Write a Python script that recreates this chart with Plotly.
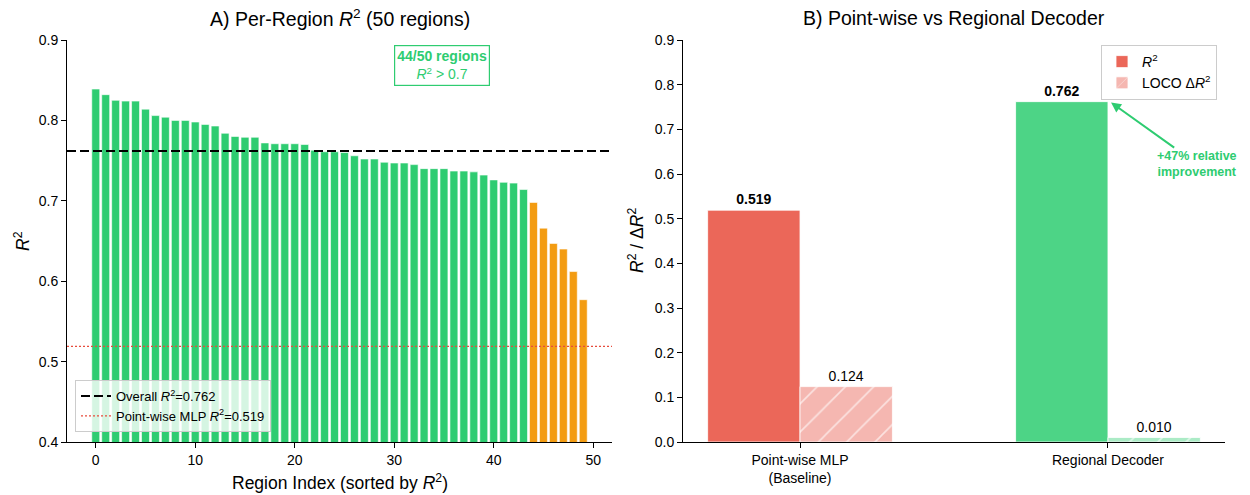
import plotly.graph_objects as go

# ---------------- data ----------------
region_idx = list(range(50))
region_r2 = [0.839, 0.832, 0.825, 0.824, 0.824, 0.814, 0.806, 0.804, 0.800, 0.800,
             0.798, 0.795, 0.793, 0.784, 0.780, 0.779, 0.779, 0.772, 0.771, 0.771,
             0.771, 0.770, 0.763, 0.761, 0.761, 0.760, 0.756, 0.752, 0.752, 0.748,
             0.747, 0.747, 0.745, 0.740, 0.740, 0.740, 0.737, 0.737, 0.736, 0.732,
             0.726, 0.723, 0.722, 0.714, 0.698, 0.666, 0.647, 0.640, 0.612, 0.577]
threshold = 0.7
overall_r2 = 0.762
baseline_r2 = 0.519

methods = ["Point-wise MLP<br>(Baseline)", "Regional Decoder"]
method_pos = [0, 1]
method_r2 = [0.519, 0.762]
method_loco = [0.124, 0.010]

left_ticks = [0, 10, 20, 30, 40, 50]
left_xrange = [-2.89, 51.89]
right_xrange = [-0.38, 1.38]

GREEN = "#2ecc71"
ORANGE = "#f39c12"
RED = "#e74c3c"
FONT = "Liberation Sans, Arial, sans-serif"
method_solid = ["rgba(231,76,60,0.85)", "rgba(46,204,113,0.85)"]
method_light = ["rgba(231,76,60,0.4)", "rgba(46,204,113,0.4)"]

n_good = sum(1 for v in region_r2 if v > threshold)
bar_colors = [GREEN if v > threshold else ORANGE for v in region_r2]

fig = go.Figure()

# ---- Panel A ----
fig.add_trace(go.Bar(
    x=region_idx, y=region_r2, width=0.8,
    marker=dict(color=bar_colors, line=dict(color="white", width=0.6)),
    showlegend=False, xaxis="x", yaxis="y", hoverinfo="x+y"))

fig.add_trace(go.Scatter(
    x=left_xrange, y=[overall_r2, overall_r2], mode="lines",
    line=dict(color="black", width=2, dash="9px,4px"),
    name=f"Overall <i>R</i><sup>2</sup>={overall_r2:.3f}",
    xaxis="x", yaxis="y", legend="legend"))
fig.add_trace(go.Scatter(
    x=left_xrange, y=[baseline_r2, baseline_r2], mode="lines",
    line=dict(color=RED, width=1.2, dash="2px,2px"),
    name=f"Point-wise MLP <i>R</i><sup>2</sup>={baseline_r2:.3f}",
    xaxis="x", yaxis="y", legend="legend"))

# ---- Panel B ----
for i, pos in enumerate(method_pos):
    fig.add_trace(go.Bar(
        x=[pos], y=[method_r2[i]], width=0.3, offset=-0.3,
        marker=dict(color=method_solid[i], line=dict(color="white", width=0.8)),
        text=[f"<b>{method_r2[i]:.3f}</b>"], textposition="outside",
        textfont=dict(size=14, color="black", family=FONT), constraintext="none",
        cliponaxis=False, legendgroup="r2", showlegend=(i == 0),
        name="<i>R</i><sup>2</sup>", xaxis="x2", yaxis="y2", legend="legend2"))
for i, pos in enumerate(method_pos):
    fig.add_trace(go.Bar(
        x=[pos], y=[method_loco[i]], width=0.3, offset=0,
        marker=dict(color=method_light[i], line=dict(color="white", width=0.8),
                    pattern=dict(shape="/", fillmode="overlay", fgcolor="white",
                                 fgopacity=0.6, size=20, solidity=0.08)),
        text=[f"{method_loco[i]:.3f}"], textposition="outside",
        textfont=dict(size=14, color="black", family=FONT), constraintext="none",
        cliponaxis=False, legendgroup="loco", showlegend=(i == 0),
        name="LOCO Δ<i>R</i><sup>2</sup>", xaxis="x2", yaxis="y2", legend="legend2"))

axis_common = dict(showline=True, linecolor="black", linewidth=1, ticks="outside",
                   ticklen=5, tickwidth=1, tickcolor="black", showgrid=False,
                   zeroline=False, automargin=False,
                   tickfont=dict(size=14, color="black", family=FONT))

ydom = [1 - 442 / 495, 1 - 40 / 495]
fig.update_layout(
    width=1250, height=495, template="none",
    paper_bgcolor="white", plot_bgcolor="white",
    margin=dict(l=0, r=0, t=0, b=0),
    font=dict(family=FONT, color="black"),
    barmode="overlay",
    xaxis=dict(domain=[67 / 1250, 612 / 1250], range=left_xrange, tickvals=left_ticks,
               anchor="y", **axis_common),
    yaxis=dict(domain=ydom, range=[0.4, 0.9], dtick=0.1, tick0=0, tickformat=".1f",
               anchor="x", **axis_common),
    xaxis2=dict(domain=[683 / 1250, 1225 / 1250], range=right_xrange, tickvals=method_pos,
                ticktext=methods, anchor="y2", **axis_common),
    yaxis2=dict(domain=ydom, range=[0, 0.9], dtick=0.1, tick0=0, tickformat=".1f",
                anchor="x2", **axis_common),
    legend=dict(x=75 / 1250, y=1 - 432 / 495, xanchor="left", yanchor="bottom",
                bgcolor="rgba(255,255,255,0.8)", bordercolor="#cccccc", borderwidth=1,
                font=dict(size=13, family=FONT), tracegroupgap=0),
    legend2=dict(x=1217 / 1250, y=1 - 45 / 495, xanchor="right", yanchor="top",
                 bgcolor="rgba(255,255,255,0.8)", bordercolor="#cccccc", borderwidth=1,
                 font=dict(size=14, family=FONT), tracegroupgap=0),
    showlegend=True,
)

annotations = [
    # titles
    dict(text="A) Per-Region <i>R</i><sup>2</sup> (50 regions)", x=339.5 / 1250, y=1 - 18 / 495,
         xref="paper", yref="paper", showarrow=False, font=dict(size=19.5),
         xanchor="center", yanchor="middle"),
    dict(text="B) Point-wise vs Regional Decoder", x=954 / 1250, y=1 - 18 / 495,
         xref="paper", yref="paper", showarrow=False, font=dict(size=19.5),
         xanchor="center", yanchor="middle"),
    # axis titles
    dict(text="Region Index (sorted by <i>R</i><sup>2</sup>)", x=339.5 / 1250, y=1 - 482 / 495,
         xref="paper", yref="paper", showarrow=False, font=dict(size=17.5),
         xanchor="center", yanchor="middle"),
    dict(text="<i>R</i><sup>2</sup>", x=22 / 1250, y=1 - 241 / 495, textangle=-90,
         xref="paper", yref="paper", showarrow=False, font=dict(size=17.5),
         xanchor="center", yanchor="middle"),
    dict(text="<i>R</i><sup>2</sup> / Δ<i>R</i><sup>2</sup>", x=636 / 1250, y=1 - 241 / 495,
         textangle=-90, xref="paper", yref="paper", showarrow=False, font=dict(size=17.5),
         xanchor="center", yanchor="middle"),
    # count box
    dict(text=f"<b>{n_good}/{len(region_r2)} regions</b><br><i>R</i><sup>2</sup> > {threshold}",
         x=442 / 1250, y=1 - 66 / 495, xref="paper", yref="paper", showarrow=False,
         font=dict(size=14, color=GREEN), bgcolor="white", bordercolor=GREEN,
         borderwidth=1.2, borderpad=2, xanchor="center", yanchor="middle"),
    # improvement arrow
    dict(text=f"<b>+{(method_r2[1] / method_r2[0] - 1) * 100:.0f}% relative<br>improvement</b>",
         x=1.01, y=method_r2[1] - 0.002, xref="x2", yref="y2",
         ax=1.29, ay=0.622, axref="x2", ayref="y2",
         showarrow=True, arrowhead=2, arrowsize=1, arrowwidth=2, arrowcolor=GREEN,
         standoff=0, font=dict(size=12.5, color=GREEN)),
]
fig.update_layout(annotations=annotations)

fig.write_html("out.html", config={"displayModeBar": False},
               post_script="document.body.style.margin='0';document.body.style.overflow='hidden';")
